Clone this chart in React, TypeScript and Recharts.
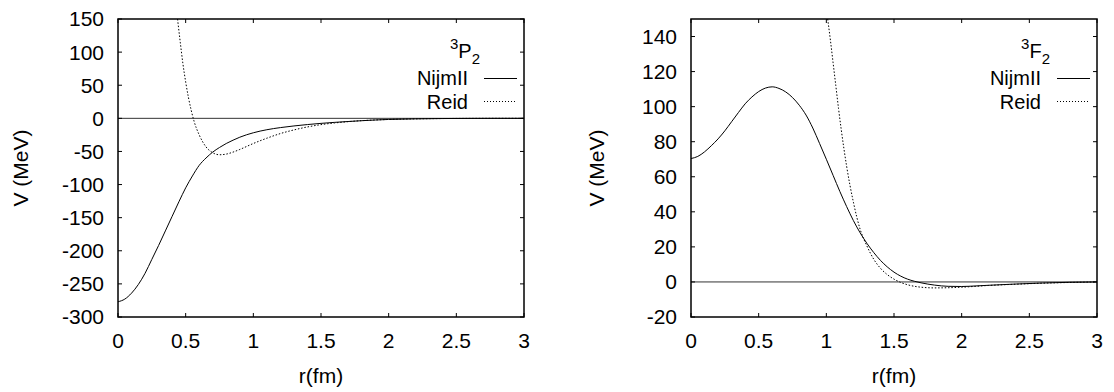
import { LineChart, Line, XAxis, YAxis, ReferenceLine } from 'recharts';

const FONT = '"Liberation Sans", Arial, Helvetica, sans-serif';
const PLOT_TOP = 19;
const PLOT_W = 406;
const PLOT_H = 298;
const TICK_LEN = 4;

// shared x ticks (fm)
const rTicks = [0, 0.5, 1, 1.5, 2, 2.5, 3];
const rDomain = [0, 3];

// 3P2 panel
const p2Ticks = [-300, -250, -200, -150, -100, -50, 0, 50, 100, 150];
const p2NijmR = [0, 0.05, 0.1, 0.15, 0.2, 0.25, 0.3, 0.35, 0.4, 0.45, 0.5, 0.55, 0.6, 0.65, 0.7, 0.75, 0.8, 0.85, 0.9, 1.0, 1.1, 1.2, 1.3, 1.4, 1.5, 1.6, 1.7, 1.8, 1.9, 2.0, 2.2, 2.4, 2.6, 2.8, 3.0];
const p2NijmV = [-277, -273, -264, -251, -234, -213, -192, -170, -148, -126, -105, -87, -71, -60, -51, -44, -38, -33, -28.5, -21.8, -17.2, -14, -11.5, -9.4, -7.6, -6.1, -4.8, -3.6, -2.5, -1.7, -0.8, -0.3, -0.1, 0, 0];
const p2ReidR = [0.44, 0.46, 0.48, 0.5, 0.52, 0.54, 0.56, 0.6, 0.65, 0.7, 0.75, 0.8, 0.85, 0.9, 1.0, 1.1, 1.2, 1.3, 1.4, 1.5, 1.6, 1.7, 1.8, 1.9, 2.0, 2.2, 2.4, 2.6, 2.8, 3.0];
const p2ReidV = [150, 115, 82, 55, 32, 13, -3, -25, -43, -52, -55, -54, -51, -47, -38, -30, -23, -17.5, -13, -9.5, -7, -5, -3.5, -2.5, -1.7, -0.8, -0.3, -0.1, 0, 0];

// 3F2 panel
const f2Ticks = [-20, 0, 20, 40, 60, 80, 100, 120, 140];
const f2NijmR = [0, 0.05, 0.1, 0.15, 0.2, 0.25, 0.3, 0.35, 0.4, 0.45, 0.5, 0.55, 0.6, 0.65, 0.7, 0.75, 0.8, 0.85, 0.9, 0.95, 1.0, 1.05, 1.1, 1.15, 1.2, 1.25, 1.3, 1.35, 1.4, 1.45, 1.5, 1.55, 1.6, 1.65, 1.7, 1.8, 1.9, 2.0, 2.1, 2.2, 2.4, 2.6, 2.8, 3.0];
const f2NijmV = [70.4, 71.6, 74.2, 77.7, 81.6, 86.2, 91.4, 96.6, 101.6, 105.5, 108.6, 110.6, 111.3, 110.4, 108.4, 105.2, 100.8, 95.2, 87.8, 79, 70, 60.8, 51.6, 43, 35, 28, 22, 16.8, 12.3, 8.6, 5.6, 3.3, 1.6, 0.4, -0.5, -1.8, -2.5, -2.6, -2.3, -1.9, -1.2, -0.6, -0.2, 0];
const f2ReidR = [1.01, 1.03, 1.05, 1.07, 1.09, 1.11, 1.13, 1.15, 1.175, 1.2, 1.225, 1.25, 1.3, 1.35, 1.4, 1.45, 1.5, 1.55, 1.6, 1.7, 1.8, 1.9, 2.0, 2.2, 2.4, 2.6, 2.8, 3.0];
const f2ReidV = [150, 138, 125, 112, 99, 87, 76, 66, 55, 45.5, 37, 30, 20.5, 13, 7.8, 4.2, 1.6, -0.3, -1.6, -3, -3.4, -3.3, -3, -2, -1.3, -0.7, -0.3, 0];

const seriesNames = ['NijmII', 'Reid'];

const toPoints = (rs: number[], vs: number[]) => rs.map((r, i) => ({ r, v: vs[i] }));

// frame, mirrored inward tick marks, axis titles and key, drawn over the chart
function Overlay({ width, plotLeft, yDomain, yTicks, letter, titleGap }: any) {
  const plotRight = plotLeft + PLOT_W;
  const plotBottom = PLOT_TOP + PLOT_H;
  const keyText = plotRight - 56;
  const sx = (r: number) => plotLeft + ((r - rDomain[0]) / (rDomain[1] - rDomain[0])) * PLOT_W;
  const sy = (v: number) => PLOT_TOP + ((yDomain[1] - v) / (yDomain[1] - yDomain[0])) * PLOT_H;
  const midY = PLOT_TOP + PLOT_H / 2;
  return (
    <svg width={width} height={392} style={{ position: 'absolute', left: 0, top: 0, pointerEvents: 'none', fontFamily: FONT }}>
      <rect x={plotLeft} y={PLOT_TOP} width={PLOT_W} height={PLOT_H} fill="none" stroke="#000" strokeWidth={1.5} />
      {rTicks.map((r) => (
        <g key={`x${r}`}>
          <line x1={sx(r)} x2={sx(r)} y1={plotBottom} y2={plotBottom - TICK_LEN} stroke="#000" />
          <line x1={sx(r)} x2={sx(r)} y1={PLOT_TOP} y2={PLOT_TOP + TICK_LEN} stroke="#000" />
        </g>
      ))}
      {yTicks.map((v: number) => (
        <g key={`y${v}`}>
          <line x1={plotLeft} x2={plotLeft + TICK_LEN} y1={sy(v)} y2={sy(v)} stroke="#000" />
          <line x1={plotRight} x2={plotRight - TICK_LEN} y1={sy(v)} y2={sy(v)} stroke="#000" />
        </g>
      ))}
      <text x={plotLeft + PLOT_W / 2} y={383} textAnchor="middle" fontSize={21} fill="#000">r(fm)</text>
      <text x={28} y={midY} transform={`rotate(-90 28 ${midY})`} textAnchor="middle" fontSize={21} fill="#000">V (MeV)</text>
      <text x={plotRight - titleGap} y={58} textAnchor="end" fontSize={20} fill="#000">
        <tspan fontSize={15} dy={-9}>3</tspan>
        <tspan dy={9}>{letter}</tspan>
        <tspan fontSize={15} dy={6}>2</tspan>
      </text>
      <text x={keyText} y={84.5} textAnchor="end" fontSize={20} fill="#000">{seriesNames[0]}</text>
      <line x1={plotRight - 40} x2={plotRight - 7} y1={78.5} y2={78.5} stroke="#000" strokeWidth={1} />
      <text x={keyText} y={108.5} textAnchor="end" fontSize={20} fill="#000">{seriesNames[1]}</text>
      <line x1={plotRight - 40} x2={plotRight - 7} y1={101.5} y2={101.5} stroke="#000" strokeWidth={1} strokeDasharray="1 2" />
    </svg>
  );
}

function Panel({ nijm, reid, yDomain, yTicks, letter, left, width, yAxisWidth, titleGap }: any) {
  const marginRight = width - yAxisWidth - PLOT_W;
  const tickStyle = { fontSize: 21, fill: '#000', fontFamily: FONT };
  return (
    <div style={{ position: 'absolute', left, top: 0, width, height: 392 }}>
      <LineChart width={width} height={392} margin={{ top: PLOT_TOP, right: marginRight, bottom: 0, left: 0 }}>
        <XAxis
          dataKey="r" type="number" domain={rDomain} ticks={rTicks} interval={0}
          height={392 - PLOT_TOP - PLOT_H} tickLine={false} axisLine={false} tickSize={6} tickMargin={10} tick={tickStyle}
        />
        <YAxis
          type="number" domain={yDomain} ticks={yTicks} interval={0}
          width={yAxisWidth} tickLine={false} axisLine={false} tickSize={6} tickMargin={8} tick={tickStyle}
        />
        <ReferenceLine y={0} stroke="#333" strokeWidth={1} />
        <Line data={nijm} dataKey="v" name={seriesNames[0]} type="monotone" stroke="#000" strokeWidth={1} dot={false} activeDot={false} isAnimationActive={false} />
        <Line data={reid} dataKey="v" name={seriesNames[1]} type="monotone" stroke="#000" strokeWidth={1} strokeDasharray="1.5 1.8" dot={false} activeDot={false} isAnimationActive={false} />
      </LineChart>
      <Overlay width={width} plotLeft={yAxisWidth} yDomain={yDomain} yTicks={yTicks} letter={letter} titleGap={titleGap} />
    </div>
  );
}

export default function App() {
  return (
    <div style={{ position: 'absolute', left: 0, top: 0, width: 1114, height: 392, background: '#fff' }}>
      <Panel
        nijm={toPoints(p2NijmR, p2NijmV)} reid={toPoints(p2ReidR, p2ReidV)}
        yDomain={[-300, 150]} yTicks={p2Ticks} letter="P"
        left={0} width={576} yAxisWidth={118} titleGap={44}
      />
      <Panel
        nijm={toPoints(f2NijmR, f2NijmV)} reid={toPoints(f2ReidR, f2ReidV)}
        yDomain={[-20, 150]} yTicks={f2Ticks} letter="F"
        left={576} width={538} yAxisWidth={115} titleGap={47}
      />
    </div>
  );
}
